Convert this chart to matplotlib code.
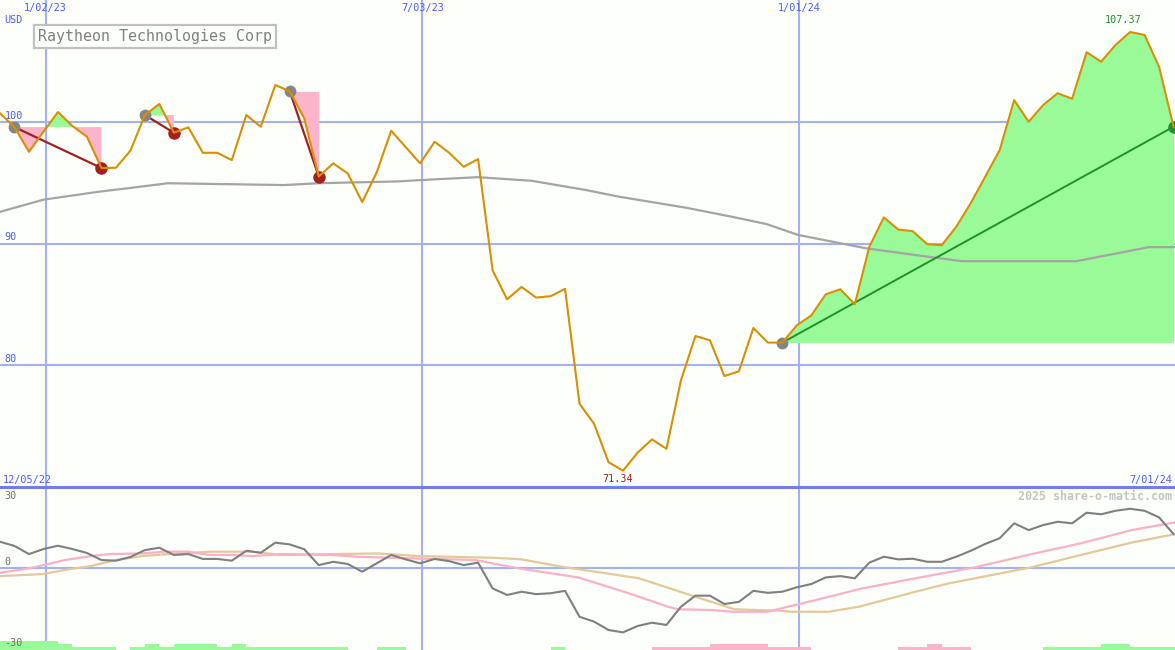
import numpy as np
import pandas as pd
import matplotlib.pyplot as plt
from matplotlib.lines import Line2D

TITLE = "Raytheon Technologies Corp"

FIRST_WEEK = "2022-12-11"

# weekly closes
PRICE = [
    100.69, 99.56, 97.53, 99.18, 100.80, 99.65, 98.77, 96.20, 96.22, 97.62,
    100.55, 101.46, 99.10, 99.54, 97.45, 97.45, 96.85, 100.55, 99.59, 103.02,
    102.50, 100.28, 95.50, 96.58, 95.76, 93.40, 95.84, 99.26, 97.92, 96.58,
    98.36, 97.45, 96.30, 96.93, 87.80, 85.42, 86.43, 85.56, 85.67, 86.27,
    76.84, 75.20, 72.04, 71.34, 72.81, 73.91, 73.14, 78.76, 82.40, 82.05,
    79.11, 79.50, 83.06, 81.86, 81.86, 83.28, 84.10, 85.83, 86.24, 85.01,
    89.72, 92.14, 91.15, 91.01, 89.94, 89.86, 91.37, 93.31, 95.48, 97.67,
    101.78, 100.00, 101.37, 102.34, 101.89, 105.71, 104.93, 106.31, 107.37, 107.13,
    104.52, 99.59,
]

# long moving average (grey line in the price panel)
MA_WEEKS = [0, 3, 6.8, 8.9, 11.6, 19.6, 22, 27.5, 28.9, 33, 36.7, 40.4,
            42.7, 47.3, 50.5, 52.9, 55.1, 59.8, 63.2, 66.4, 74.3, 79.3, 81.1]
MA_VALUES = [92.6, 93.6, 94.25, 94.55, 94.95, 94.8, 94.95, 95.1, 95.2, 95.45, 95.15, 94.4,
             93.85, 92.95, 92.2, 91.6, 90.7, 89.6, 89.05, 88.55, 88.55, 89.7, 89.7]

GRID_DATES = ["2023-01-02", "2023-07-03", "2024-01-01"]
GRID_LABELS = ["1/02/23", "7/03/23", "1/01/24"]
PRICE_LEVELS = [100, 90, 80]
START_LABEL = "12/05/22"
END_LABEL = "7/01/24"

# (start week, end week) of the marked trend moves
TRENDS = [(1, 7), (10, 12), (20, 22), (54, 81)]

# lower panel
MOMENTUM = [
    11.8, 9.9, 6.2, 8.5, 10.0, 8.5, 6.7, 3.5, 3.2, 4.9,
    8.0, 9.1, 5.8, 6.2, 4.0, 4.0, 3.2, 7.7, 6.8, 11.4,
    10.6, 8.4, 1.2, 2.7, 1.7, -1.8, 2.0, 5.8, 3.8, 2.0,
    4.0, 3.0, 1.2, 2.3, -9.4, -12.4, -10.9, -12.0, -11.6, -10.5,
    -22.3, -24.5, -28.3, -29.4, -26.5, -25.0, -26.0, -17.7, -12.7, -12.7,
    -16.5, -15.5, -10.5, -11.4, -10.9, -8.9, -7.4, -4.4, -3.8, -4.8,
    2.3, 5.0, 3.8, 4.1, 2.7, 2.7, 5.0, 7.7, 10.8, 13.4,
    20.2, 17.1, 19.4, 20.9, 20.2, 25.0, 24.3, 25.9, 26.8, 25.9,
    22.9, 15.3,
]
PINK_WEEKS = [0, 2, 3, 4.5, 6.3, 7.5, 9.8, 11.4, 13, 14.4, 16, 17.4, 19.4, 22.9,
              24.7, 26.1, 32.8, 35.8, 39.9, 43.4, 46.1, 46.8, 49.1, 50.5, 53,
              54.4, 56.3, 59.5, 63.2, 67.3, 71.2, 74.6, 78.1, 81.1]
PINK_VALUES = [-2.3, -0.3, 1.2, 3.5, 5.3, 6.2, 6.5, 7.3, 7.3, 5.8, 5.8, 5.3, 6.2, 5.8,
               5.0, 4.7, 3.5, -0.3, -4.4, -11.6, -17.7, -18.9, -19.2, -20, -20,
               -17.7, -14.7, -9.4, -4.8, 0.2, 6.2, 11.1, 17.1, 20.6]
TAN_WEEKS = [0, 2.9, 4.5, 6.3, 8, 9.8, 11.4, 14.6, 17.4, 19.4, 22.9, 26.1, 28.9,
             34.2, 36, 39, 42.2, 44.1, 48, 50.7, 53.7, 54.6, 57.2, 59.3, 63.2,
             65.5, 71.2, 74.6, 78.1, 81.1]
TAN_VALUES = [-3.8, -2.9, -1.0, 0.8, 3.5, 5.3, 6.1, 7.3, 7.3, 5.8, 6.2, 6.5, 5.3,
              4.5, 3.8, 0.2, -2.9, -4.8, -13.2, -18.9, -19.5, -20, -20, -17.7, -10.9,
              -7.1, 0.2, 5.8, 11.4, 15.3]
BARS = [3, 3, 3, 3, 2, 1, 1, 1, 0, 1, 2, 1, 2, 2, 2, 1, 2, 1, 1, 1,
        1, 1, 1, 1, 0, 0, 1, 1, 0, 0, 0, 0, 0, 0, 0, 0, 0, 0, 1, 0,
        0, 0, 0, 0, 0, -1, -1, -1, -1, -2, -2, -2, -2, -1, -1, -1, 0, 0, 0, 0,
        0, 0, -1, -1, -2, -1, -1, 0, 0, 0, 0, 0, 1, 1, 1, 1, 2, 2, 1, 1,
        1, 1]

BG = "#fcfffa"
GRID = "#a3b1f2"
BLUE = "#4b5cf0"
ORANGE = "#d98e04"
GREEN_FILL = "#98fb98"
PINK_FILL = "#fbb4c9"
DARK_RED = "#a3201f"
DARK_GREEN = "#22902a"
MONO = "DejaVu Sans Mono"


def main():
    weeks = np.arange(len(PRICE))
    price = np.array(PRICE)
    first = pd.Timestamp(FIRST_WEEK)
    grid_weeks = [(pd.Timestamp(d) - first).days / 7 for d in GRID_DATES]

    fig = plt.figure(figsize=(11.75, 6.5), dpi=100)
    fig.patch.set_facecolor(BG)
    ax = fig.add_axes([0, 163 / 650, 1, 487 / 650])
    ax2 = fig.add_axes([0, 0, 1, 163 / 650])
    for a in (ax, ax2):
        a.set_xlim(0, 81.1)
        a.axis("off")
        for w in grid_weeks:
            a.axvline(w, color=GRID, lw=1.5, zorder=0)
    ax.set_ylim(70, 110)
    low_lim = (-37.4, 36.7)
    ax2.set_ylim(*low_lim)

    # price panel
    for lvl in PRICE_LEVELS:
        ax.axhline(lvl, color=GRID, lw=1.5, zorder=0)
        ax.annotate(str(lvl), xy=(0.004, lvl), xycoords=("axes fraction", "data"),
                    xytext=(0, 6), textcoords="offset pixels", ha="left", va="center",
                    color=BLUE, family=MONO, fontsize=7.3)
    for w, lab in zip(grid_weeks, GRID_LABELS):
        ax.text(w, 1 - 8 / 487, lab, transform=ax.get_xaxis_transform(),
                ha="center", va="center", color=BLUE, family=MONO, fontsize=7.3)
    ax.text(0.004, 1 - 20 / 487, "USD", transform=ax.transAxes, ha="left", va="center",
            color=BLUE, family=MONO, fontsize=7.3)
    ax.text(0.002, 7 / 487, START_LABEL, transform=ax.transAxes, ha="left", va="center",
            color=BLUE, family=MONO, fontsize=7.3)
    ax.text(0.9975, 7 / 487, END_LABEL, transform=ax.transAxes, ha="right", va="center",
            color=BLUE, family=MONO, fontsize=7.3)

    ax.text(38 / 1175, 1 - 36.5 / 487, TITLE, transform=ax.transAxes, ha="left",
            va="center", color="#808080", family=MONO, fontsize=10.8,
            bbox=dict(boxstyle="square,pad=0.26", fc=BG, ec="#c0c0c0", lw=1.6), zorder=8)

    for s, e in TRENDS:
        xs = weeks[s:e + 1]
        ys = price[s:e + 1]
        lvl = price[s]
        ax.fill_between(xs, ys, lvl, where=ys >= lvl, interpolate=True,
                        color=GREEN_FILL, lw=0, zorder=1)
        ax.fill_between(xs, ys, lvl, where=ys <= lvl, interpolate=True,
                        color=PINK_FILL, lw=0, zorder=1)
        up = price[e] > lvl
        ax.plot([s, e], [lvl, price[e]], color=DARK_GREEN if up else DARK_RED,
                lw=1.4 if up else 1.6, zorder=3)
        ax.plot(s, lvl, "o", color="#858585", ms=8.5, mew=0, zorder=4)
        ax.plot(e, price[e], "o", color=DARK_GREEN if up else DARK_RED,
                ms=9, mew=0, zorder=4)

    ax.plot(MA_WEEKS, MA_VALUES, color="#a4a4a4", lw=1.6, zorder=2)
    ax.plot(weeks, price, color=ORANGE, lw=1.5, zorder=5)

    imax = int(np.argmax(price))
    imin = int(np.argmin(price))
    ax.annotate(f"{price[imax]:.2f}", xy=(imax, price[imax]), xytext=(-7, 12),
                textcoords="offset pixels", ha="center", va="center",
                color=DARK_GREEN, family=MONO, fontsize=7.3)
    ax.annotate(f"{price[imin]:.2f}", xy=(imin, price[imin]), xytext=(-5, -8.5),
                textcoords="offset pixels", ha="center", va="center",
                color=DARK_RED, family=MONO, fontsize=7.3)

    # lower panel
    ax2.axhline(0, color=GRID, lw=1.5, zorder=0)
    unit = 3 / (163 / (low_lim[1] - low_lim[0]))
    bars = np.array(BARS)
    ax2.bar(weeks, np.abs(bars) * unit, bottom=low_lim[0], width=1, align="edge",
            color=[GREEN_FILL if b > 0 else PINK_FILL for b in bars], lw=0, zorder=1)
    ax2.plot(TAN_WEEKS, TAN_VALUES, color="#e3c99a", lw=1.6, zorder=2)
    ax2.plot(PINK_WEEKS, PINK_VALUES, color="#fbb0c8", lw=1.6, zorder=3)
    ax2.plot(weeks, MOMENTUM, color="#7f7f7f", lw=1.5, zorder=4)

    for val, off in [(30, 6), (0, 6), (-30, -9)]:
        ax2.annotate(str(val), xy=(0.004, val), xycoords=("axes fraction", "data"),
                     xytext=(0, off), textcoords="offset pixels", ha="left", va="center",
                     color="#707070", family=MONO, fontsize=7.3, zorder=6)
    ax2.text(0.9975, 1 - 9 / 163, "2025 share-o-matic.com", transform=ax2.transAxes,
             ha="right", va="center", color="#c4c4c4", family=MONO,
             fontsize=8.4, fontweight="bold")

    fig.add_artist(Line2D([0, 1], [163 / 650, 163 / 650], transform=fig.transFigure,
                          color="#6f7fe8", lw=2.2))

    fig.savefig("out.png", dpi=100, facecolor=BG)


if __name__ == "__main__":
    main()
